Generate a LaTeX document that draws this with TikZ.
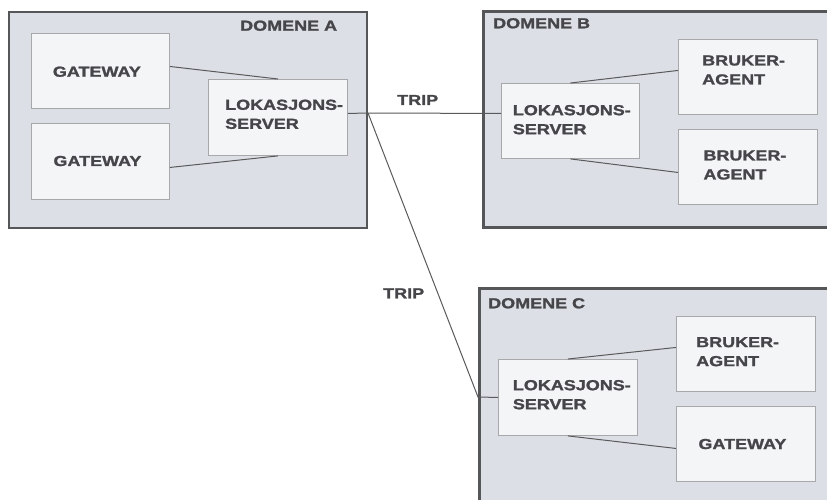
\documentclass[tikz,border=0pt]{standalone}
\usepackage{fontspec}
\newfontfamily\lblfont[FakeStretch=1.24, BoldFeatures={FakeBold=1.5}]{Liberation Sans}
\definecolor{domfill}{HTML}{DCDFE6}
\definecolor{domline}{HTML}{555658}
\definecolor{boxfill}{HTML}{F4F5F7}
\definecolor{boxline}{HTML}{A8A8AA}
\definecolor{txt}{HTML}{46464A}
\definecolor{wire}{HTML}{5A5A5C}
\tikzset{
  domainbox/.style={draw=domline, line width=2.6pt, fill=domfill, rectangle, inner sep=0pt},
  unitbox/.style={draw=boxline, line width=0.9pt, fill=boxfill, rectangle, inner sep=0pt},
  lbl/.style={font=\lblfont\bfseries\fontsize{14.5}{19}\selectfont, text=txt, inner sep=0pt, align=left, anchor=west},
  wireline/.style={draw=wire, line width=1pt}
}
\begin{document}
\begin{tikzpicture}[x=1pt,y=-1pt]
\clip (0,0) rectangle (827,499);
\fill[white] (0,0) rectangle (827,499);
% domains
\node[domainbox, minimum width=358, minimum height=216] (domA) at (188,120) {};
\node[domainbox, minimum width=360, minimum height=216, anchor=north west] (domB) at (482,10) {};
\node[domainbox, minimum width=360, minimum height=230, anchor=north west] (domC) at (478,287) {};
% boxes domain A
\node[unitbox, minimum width=138, minimum height=75, anchor=north west] (gwA1) at (31,33) {};
\node[unitbox, minimum width=138, minimum height=76, anchor=north west] (gwA2) at (31,123) {};
\node[unitbox, minimum width=139, minimum height=76, anchor=north west] (lsA) at (208,79) {};
% boxes domain B
\node[unitbox, minimum width=138, minimum height=75, anchor=north west] (lsB) at (501,83) {};
\node[unitbox, minimum width=139, minimum height=75, anchor=north west] (baB1) at (678,39) {};
\node[unitbox, minimum width=139, minimum height=75, anchor=north west] (baB2) at (678,129) {};
% boxes domain C
\node[unitbox, minimum width=139, minimum height=76, anchor=north west] (lsC) at (498,359) {};
\node[unitbox, minimum width=139, minimum height=75, anchor=north west] (baC) at (676,316) {};
\node[unitbox, minimum width=139, minimum height=75, anchor=north west] (gwC) at (676,406) {};
% labels
\node[lbl] (tA) at (240,25.7) {DOMENE A};
\node[lbl] (tB) at (493,23.3) {DOMENE B};
\node[lbl] (tC) at (488,303.3) {DOMENE C};
\node[lbl] (lgwA1) at (52.7,71.7) {GATEWAY};
\node[lbl] (lgwA2) at (53.3,161) {GATEWAY};
\node[lbl] (llsA) at (225,114.3) {LOKASJONS-\\SERVER};
\node[lbl] (llsB) at (512.7,119.7) {LOKASJONS-\\SERVER};
\node[lbl] (lbaB1) at (702,70) {BRUKER-\\AGENT};
\node[lbl] (lbaB2) at (703.3,165) {BRUKER-\\AGENT};
\node[lbl] (llsC) at (512.7,394.7) {LOKASJONS-\\SERVER};
\node[lbl] (lbaC) at (696,351.7) {BRUKER-\\AGENT};
\node[lbl] (lgwC) at (698.3,444) {GATEWAY};
\node[lbl] (trip1) at (397,100) {TRIP};
\node[lbl] (trip2) at (383,293.3) {TRIP};
% connectors
\coordinate (jn) at (368,113);
\coordinate (jc) at (478,397);
\draw[wireline] ([yshift=4.5]gwA1.east) -- (lsA.north);
\draw[wireline] ([yshift=-6]gwA2.east) -- (lsA.south);
\draw[wireline] ([yshift=4]lsA.east) -- (jn) -- ([yshift=7.5]lsB.west);
\draw[wireline] (jn) -- (jc) -- (lsC.west);
\draw[wireline] (lsB.north) -- ([yshift=6.5]baB1.west);
\draw[wireline] (lsB.south) -- ([yshift=-5.5]baB2.west);
\draw[wireline] (lsC.north) -- ([yshift=6.5]baC.west);
\draw[wireline] (lsC.south) -- ([yshift=-4.5]gwC.west);
\end{tikzpicture}
\end{document}
